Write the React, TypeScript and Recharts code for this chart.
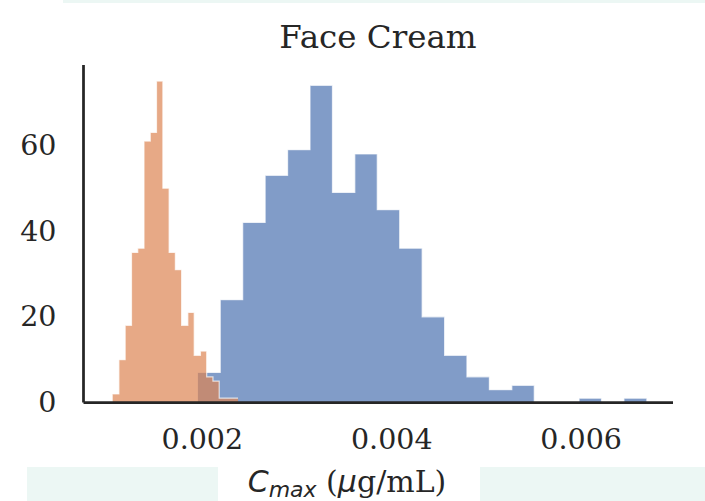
import { Area, ComposedChart, XAxis, YAxis } from "recharts"

// histogram bin edges (µg/mL) and counts
const orangeEdges = [
  0.001053, 0.001119, 0.001185, 0.001252, 0.001318, 0.001384, 0.00145, 0.001516, 0.001583, 0.001649,
  0.001715, 0.001781, 0.001847, 0.001914, 0.00198, 0.002046, 0.002112, 0.002178, 0.002245, 0.002311,
  0.002377,
]
const orangeCounts = [2, 10, 18, 35, 36, 61, 63, 75, 50, 35, 31, 18, 21, 11, 12, 6, 5, 1, 1, 1]

const blueEdges = [
  0.001953, 0.002189, 0.002426, 0.002663, 0.0029, 0.003137, 0.003374, 0.00361, 0.003847, 0.004084,
  0.004321, 0.004558, 0.004794, 0.005031, 0.005268, 0.005505, 0.005742, 0.005978, 0.006215, 0.006452,
  0.006689,
]
const blueCounts = [7, 24, 42, 53, 59, 74, 49, 58, 45, 36, 20, 11, 6, 3, 4, 0, 0, 1, 0, 1]

const xTicks = [0.002, 0.004, 0.006]
const yTicks = [0, 20, 40, 60]

const TEXT = "#262626"
const SERIF = "'DejaVu Serif', serif"
const SANS = "'DejaVu Sans', sans-serif"

// stepfilled outline: each edge carries the count of the bin that starts there
function toSteps(edges: number[], counts: number[]) {
  return edges.map((x, i) => ({ x, count: counts[Math.min(i, counts.length - 1)] }))
}

const blueSteps = toSteps(blueEdges, blueCounts)
const orangeSteps = toSteps(orangeEdges, orangeCounts)

const XTick = (props: any) => {
  const { x, y, payload } = props
  return (
    <text x={x} y={y + 37} textAnchor="middle" dominantBaseline="central" fontFamily={SERIF} fontSize={28.5} fill={TEXT}>
      {String(payload.value)}
    </text>
  )
}

const YTick = (props: any) => {
  const { x, y, payload } = props
  return (
    <text x={x - 27} y={y} textAnchor="end" dominantBaseline="central" fontFamily={SERIF} fontSize={28.5} fill={TEXT}>
      {String(payload.value)}
    </text>
  )
}

export default function App() {
  return (
    <div style={{ position: "absolute", left: 0, top: 0, width: 705, height: 501, background: "#ffffff" }}>
      <div style={{ position: "absolute", left: 63, top: 0, width: 642, height: 3, background: "#ecf7f4" }} />
      <div style={{ position: "absolute", left: 27, top: 467, width: 191, height: 34, background: "#ecf7f4" }} />
      <div style={{ position: "absolute", left: 480, top: 467, width: 225, height: 34, background: "#ecf7f4" }} />
      <div style={{ position: "absolute", left: 0, top: 0 }}>
        <ComposedChart width={705} height={501} margin={{ top: 65, right: 32, bottom: 68.5, left: 0 }}>
          <XAxis
            type="number"
            dataKey="x"
            domain={[0.000745, 0.00697]}
            allowDataOverflow
            ticks={xTicks}
            tick={<XTick />}
            tickLine={false}
            tickSize={0}
            tickMargin={0}
            height={30}
            axisLine={{ stroke: TEXT, strokeWidth: 2.75 }}
          />
          <YAxis
            type="number"
            domain={[0, 78.75]}
            allowDataOverflow
            ticks={yTicks}
            tick={<YTick />}
            tickLine={false}
            tickSize={0}
            tickMargin={0}
            width={83.5}
            axisLine={{ stroke: TEXT, strokeWidth: 2.75 }}
          />
          <Area
            data={blueSteps}
            dataKey="count"
            type="stepAfter"
            fill="#4C72B0"
            fillOpacity={0.7}
            stroke="#ffffff"
            strokeOpacity={0.7}
            strokeWidth={1.2}
            isAnimationActive={false}
          />
          <Area
            data={orangeSteps}
            dataKey="count"
            type="stepAfter"
            fill="#DD8452"
            fillOpacity={0.7}
            stroke="#ffffff"
            strokeOpacity={0.7}
            strokeWidth={1.2}
            isAnimationActive={false}
          />
        </ComposedChart>
      </div>
      <svg width={705} height={501} style={{ position: "absolute", left: 0, top: 0, pointerEvents: "none" }}>
        <text x={378} y={48} textAnchor="middle" fontFamily={SERIF} fontSize={32.5} fill={TEXT}>
          Face Cream
        </text>
        <text x={347} y={492} textAnchor="middle" fontFamily={SERIF} fontSize={30} fill={TEXT}>
          <tspan fontFamily={SANS} fontStyle="italic">C</tspan>
          <tspan fontFamily={SANS} fontStyle="italic" fontSize={22} dy={5}>max</tspan>
          <tspan dy={-5}> (</tspan>
          <tspan fontFamily={SANS} fontStyle="italic">μ</tspan>
          <tspan>g/mL)</tspan>
        </text>
      </svg>
    </div>
  )
}
